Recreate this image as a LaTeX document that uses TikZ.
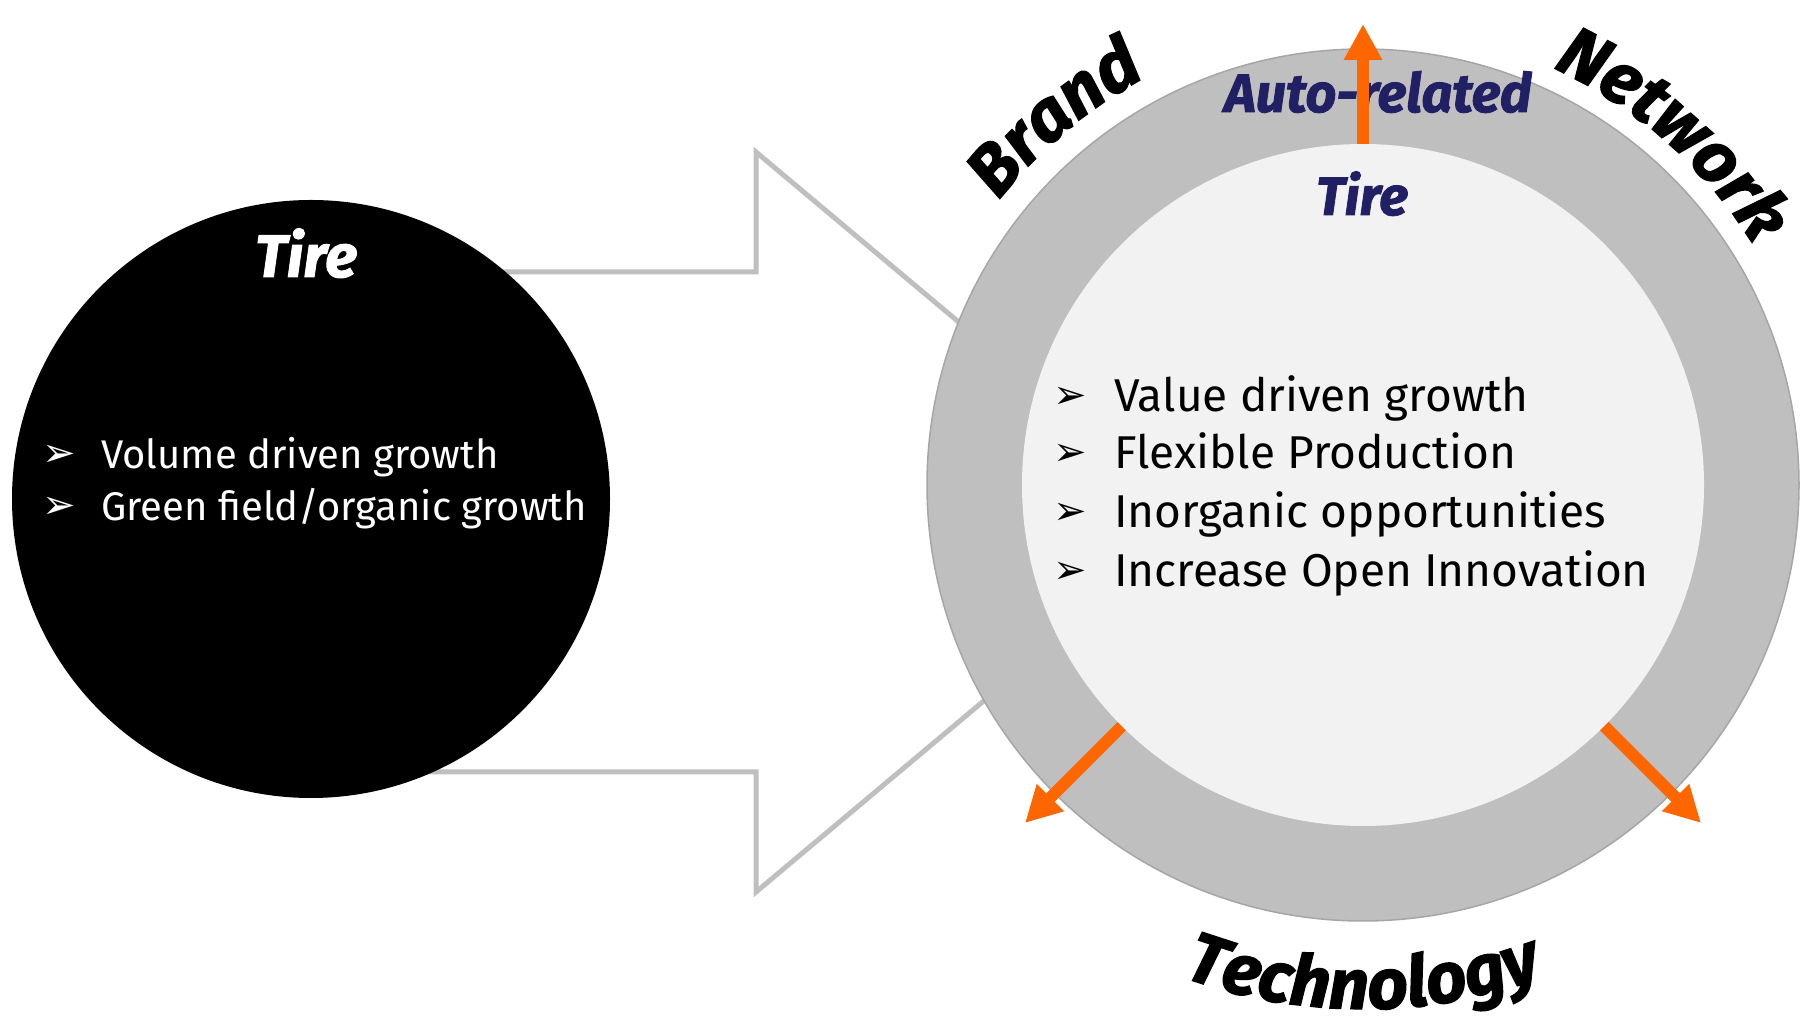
\documentclass[tikz,border=0pt]{standalone}
\usepackage{fontspec}
\setmainfont{Fira Sans}
\newfontfamily\heavyfont{Fira Sans}[FakeBold=1.6]
\newfontfamily\dingfont{DejaVu Sans}
\usetikzlibrary{arrows.meta,decorations.text}

\definecolor{ringgray}{HTML}{BFBFBF}
\definecolor{ringline}{HTML}{A6A6A6}
\definecolor{coregray}{HTML}{F2F2F2}
\definecolor{navy}{RGB}{33,32,100}
\definecolor{groworange}{HTML}{FF6600}

\newcommand{\bulletmark}{{\dingfont ➢}}
\newcommand{\curvefont}{\heavyfont\bfseries\itshape\fontsize{71}{71}\selectfont}

\begin{document}
\begin{tikzpicture}[x=1pt,y=1pt,
  blockarrow/.style={draw=ringgray,line width=5pt,fill=white,line join=miter},
  heading/.style={font=\heavyfont\bfseries\itshape\fontsize{54}{54}\selectfont,inner sep=0pt,anchor=base},
  item/.style={font=\fontsize{46}{46}\selectfont,inner sep=0pt,anchor=base west},
  pointer/.style={font=\fontsize{40}{40}\selectfont,inner sep=0pt,anchor=base west},
  growarrow/.style={groworange,line width=12pt,-{Triangle[width=36pt,length=36pt]}},
  bend/.style={decorate,decoration={text along path,text align=center,text={|\curvefont|#1}}}]
  \useasboundingbox (0,0) rectangle (1804,1020);

%% block arrow, left end hidden by the black circle
  \draw[blockarrow] (311,748) -- (756,748) -- (756,868) -- (1197,498)
    -- (756,128) -- (756,248) -- (311,248) -- cycle;

%% left circle
  \node (old) at (311,521) [circle,fill=black,minimum size=598,inner sep=0pt] {};
  \node (oldtitle) at (306,743) [heading,text=white,font=\heavyfont\bfseries\itshape\fontsize{60}{60}\selectfont] {Tire};
  \node (oldp1) at (42,553) [pointer,text=white] {\bulletmark};
  \node (old1) at (101,551) [item,text=white,font=\fontsize{40}{40}\selectfont] {Volume driven growth};
  \node (oldp2) at (42,501) [pointer,text=white] {\bulletmark};
  \node (old2) at (101,499) [item,text=white,font=\fontsize{40}{40}\selectfont] {Green field/organic growth};

%% right circle
  \node (ring) at (1363,535) [circle,fill=ringgray,draw=ringline,line width=1.5pt,minimum size=872,inner sep=0pt] {};
  \node (core) at (1363,535) [circle,fill=coregray,minimum size=682,inner sep=0pt] {};
  \node (auto) at (1378,908) [heading,text=navy] {Auto-related};
  \node (tire) at (1362,805) [heading,text=navy] {Tire};

  \node (newp1) at (1053,611) [pointer] {\bulletmark};
  \node (new1) at (1114,608) [item] {Value driven growth};
  \node (newp2) at (1053,554) [pointer] {\bulletmark};
  \node (new2) at (1114,551) [item] {Flexible Production};
  \node (newp3) at (1053,495) [pointer] {\bulletmark};
  \node (new3) at (1114,492) [item] {Inorganic opportunities};
  \node (newp4) at (1053,436) [pointer] {\bulletmark};
  \node (new4) at (1114,433) [item] {Increase Open Innovation};

%% growth arrows out of the core
  \coordinate (upend) at (1363,996);
  \coordinate (leftend) at (1025,197);
  \coordinate (rightend) at (1701,197);
  \draw[growarrow] (core.90) -- (upend);
  \draw[growarrow] (core.-135) -- (leftend);
  \draw[growarrow] (core.-45) -- (rightend);

%% curved labels round the ring
  \begin{scope}[shift={(ring.center)}]
    \path[bend=Brand] (165:462) arc[start angle=165,end angle=95,radius=462];
    \path[bend=Network] (85:458) arc[start angle=85,end angle=12,radius=458];
    \path[bend=Technology] (225:524) arc[start angle=225,end angle=315,radius=524];
  \end{scope}

\end{tikzpicture}
\end{document}
